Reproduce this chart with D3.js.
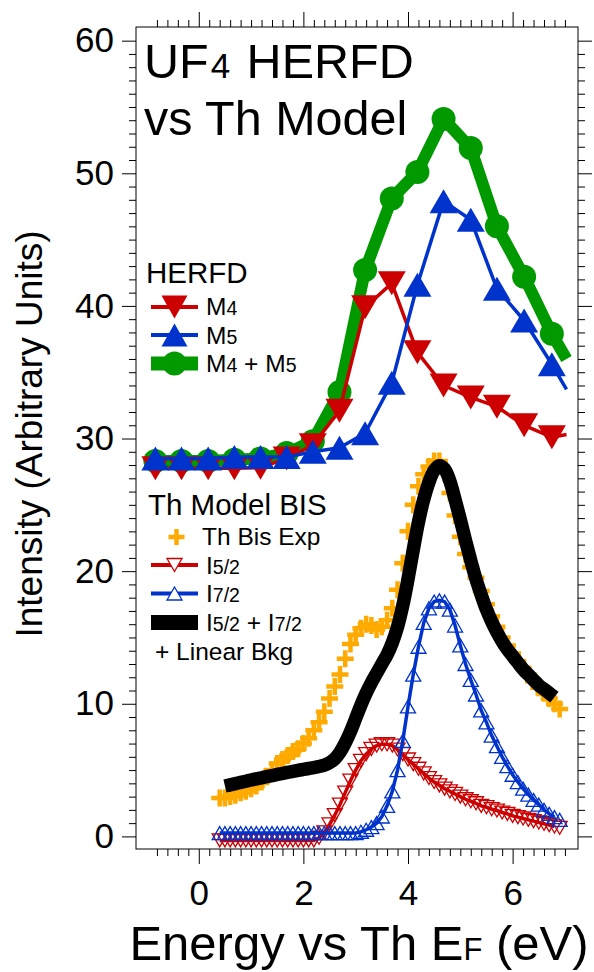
<!DOCTYPE html>
<html>
<head>
<meta charset="utf-8">
<script src="https://cdn.jsdelivr.net/npm/d3@7"></script>
<style>
  body { margin: 0; background: #fff; }
  text { font-family: "Liberation Sans", Arial, sans-serif; fill: #000; }
</style>
</head>
<body>
<script>
// HERFD (top set) - last point has no marker in the original
const herfdE = [-0.83, -0.33, 0.18, 0.68, 1.18, 1.68, 2.18, 2.69, 3.18, 3.69, 4.18, 4.68, 5.2, 5.7, 6.22, 6.75, 7.03];
const m4 = [27.75, 27.75, 27.75, 27.75, 27.8, 28.5, 29.5, 32.1, 39.9, 41.7, 36.5, 34.0, 33.1, 32.4, 31.0, 30.1, 30.3];
const m5 = [28.5, 28.5, 28.5, 28.6, 28.6, 28.6, 29.0, 29.3, 30.4, 34.2, 41.6, 47.9, 46.5, 41.3, 38.9, 35.6, 33.7];
const m4m5 = [28.3, 28.3, 28.3, 28.4, 28.5, 28.9, 29.8, 33.5, 42.7, 48.1, 50.1, 54.1, 51.9, 46.0, 42.2, 37.9, 36.0];

// Th model BIS (bottom set)
const modelE = [0.4, 0.5, 0.6, 0.7, 0.8, 0.9, 1.0, 1.1, 1.2, 1.3, 1.4, 1.5, 1.6, 1.7, 1.8, 1.9, 2.0, 2.1, 2.2, 2.3,
  2.4, 2.5, 2.6, 2.7, 2.8, 2.9, 3.0, 3.1, 3.2, 3.3, 3.4, 3.5, 3.6, 3.7, 3.8, 3.9, 4.0, 4.1, 4.2, 4.3,
  4.4, 4.5, 4.6, 4.7, 4.8, 4.9, 5.0, 5.1, 5.2, 5.3, 5.4, 5.5, 5.6, 5.7, 5.8, 5.9, 6.0, 6.1, 6.2, 6.3,
  6.4, 6.5, 6.6, 6.7, 6.8, 6.9];
const thBisExp = [2.9, 2.9, 3.0, 3.1, 3.3, 3.4, 3.6, 3.8, 4.1, 4.5, 5.0, 5.5, 5.8, 6.1, 6.4, 6.6, 7.0, 7.4, 8.0, 8.6,
  9.4, 10.4, 11.3, 12.2, 13.4, 14.5, 15.2, 15.7, 16.0, 15.9, 15.6, 15.8, 16.3, 17.2, 18.6, 20.6, 23.0, 25.0, 26.4, 27.3,
  27.9, 28.3, 28.3, 27.4, 25.9, 24.2, 22.6, 21.3, 20.3, 19.5, 18.5, 17.5, 16.6, 15.8, 15.0, 14.4, 13.8, 13.2, 12.7, 12.2,
  11.7, 11.2, 10.8, 10.4, 10.0, 9.6];
const i52 = [-0.3, -0.3, -0.3, -0.3, -0.3, -0.3, -0.3, -0.3, -0.3, -0.3, -0.3, -0.3, -0.3, -0.3, -0.3, -0.3, -0.3, -0.3, -0.3, -0.1,
  0.3, 0.9, 1.6, 2.4, 3.3, 4.2, 5.0, 5.7, 6.2, 6.6, 6.85, 6.95, 6.95, 6.85, 6.55, 6.2, 5.8, 5.45, 5.1, 4.75,
  4.4, 4.1, 3.85, 3.6, 3.4, 3.2, 3.0, 2.8, 2.65, 2.5, 2.3, 2.2, 2.05, 1.95, 1.8, 1.7, 1.55, 1.45, 1.35, 1.25,
  1.15, 1.05, 0.95, 0.85, 0.75, 0.65];
const i72 = [0.25, 0.25, 0.25, 0.25, 0.25, 0.25, 0.25, 0.25, 0.25, 0.25, 0.25, 0.25, 0.25, 0.25, 0.25, 0.25, 0.25, 0.25, 0.25, 0.25,
  0.25, 0.25, 0.25, 0.25, 0.25, 0.25, 0.25, 0.35, 0.5, 0.7, 1.0, 1.5, 2.3, 3.4, 5.0, 7.2, 9.8, 12.2, 14.3, 16.1,
  17.2, 17.7, 17.8, 17.7, 17.1, 15.9, 14.4, 13.0, 11.8, 10.7, 9.5, 8.6, 7.6, 6.8, 6.0, 5.3, 4.65, 4.1, 3.6, 3.15,
  2.75, 2.4, 2.0, 1.7, 1.45, 1.25];
// I5/2 + I7/2 + linear background (fit), no value outside 0.5..6.8
const fitSum = [null, 3.8, 3.89, 3.98, 4.07, 4.16, 4.25, 4.34, 4.42, 4.5, 4.59, 4.67, 4.75, 4.83, 4.9, 4.98, 5.05, 5.12, 5.19, 5.27,
  5.38, 5.55, 5.85, 6.35, 7.05, 7.9, 8.9, 9.9, 10.8, 11.6, 12.3, 13.0, 13.7, 14.6, 15.8, 17.4, 19.4, 21.6, 23.7, 25.4,
  26.7, 27.6, 27.95, 27.7, 26.8, 25.4, 23.9, 22.3, 20.8, 19.4, 18.2, 17.1, 16.2, 15.4, 14.7, 14.1, 13.6, 13.1, 12.6, 12.2,
  11.8, 11.4, 11.1, 10.8, 10.5, null];

const xMajor = [0, 2, 4, 6],
      xTickLabels = ["0", "2", "4", "6"],
      yMajor = [0, 10, 20, 30, 40, 50, 60],
      yTickLabels = ["0", "10", "20", "30", "40", "50", "60"];

const red = "#cc0000", blue = "#0033cc", green = "#009900", orange = "#ffaa00";

const width = 594, height = 972;
const x = d3.scaleLinear().domain([-1.2, 7.25]).range([136, 578]);
const y = d3.scaleLinear().domain([-0.95, 61.03]).range([849, 27]);

const svg = d3.select("body").append("svg")
        .attr("width", width)
        .attr("height", height);

const zip = (xs, ys) => xs.map((e, i) => [e, ys[i]]);
const line = d3.line().defined(d => d[1] != null).x(d => x(d[0])).y(d => y(d[1]));

function tri(w, h, down) {
    const s = down ? -1 : 1;
    return "M0," + (-s * h / 2) + "L" + (w / 2) + "," + (s * h / 2) + "L" + (-w / 2) + "," + (s * h / 2) + "Z";
}
const plus = a => "M" + (-a) + ",0H" + a + "M0," + (-a) + "V" + a;

// ---- axes: ticks on all four sides, outside
const xMinor = d3.range(-4, 36).filter(i => i % 10 !== 0).map(i => i / 5);
const yMinor = d3.range(0, 61).filter(v => v % 10 !== 0);

function addAxis(axis, tr, labels) {
    const g = svg.append("g").attr("transform", tr).call(axis);
    g.select(".domain").remove();
    g.selectAll("line").attr("stroke", "#000");
    if (labels) g.selectAll("text").style("font-size", "35px").attr("fill", "#000");
    return g;
}
const bottomY = y.range()[0], topY = y.range()[1], leftX = x.range()[0], rightX = x.range()[1];

addAxis(d3.axisBottom(x).tickValues(xMajor).tickSize(15).tickPadding(16)
        .tickFormat((d, i) => xTickLabels[i]), "translate(0," + bottomY + ")", true);
addAxis(d3.axisBottom(x).tickValues(xMinor).tickSize(7).tickFormat(""), "translate(0," + bottomY + ")");
addAxis(d3.axisTop(x).tickValues(xMajor).tickSize(15).tickFormat(""), "translate(0," + topY + ")");
addAxis(d3.axisTop(x).tickValues(xMinor).tickSize(7).tickFormat(""), "translate(0," + topY + ")");
addAxis(d3.axisLeft(y).tickValues(yMajor).tickSize(14).tickPadding(8)
        .tickFormat((d, i) => yTickLabels[i]), "translate(" + leftX + ",0)", true);
addAxis(d3.axisLeft(y).tickValues(yMinor).tickSize(7).tickFormat(""), "translate(" + leftX + ",0)");
addAxis(d3.axisRight(y).tickValues(yMajor).tickSize(14).tickFormat(""), "translate(" + rightX + ",0)");
addAxis(d3.axisRight(y).tickValues(yMinor).tickSize(7).tickFormat(""), "translate(" + rightX + ",0)");

svg.append("rect")
        .attr("x", leftX).attr("y", topY)
        .attr("width", rightX - leftX).attr("height", bottomY - topY)
        .attr("fill", "none").attr("stroke", "#000").attr("stroke-width", 1);

// ---- model curves
const plot = svg.append("g");

plot.selectAll(".bisExp")
        .data(zip(modelE, thBisExp))
        .enter().append("path")
        .attr("class", "bisExp")
        .attr("transform", d => "translate(" + x(d[0]) + "," + y(d[1]) + ")")
        .attr("d", plus(8.5))
        .attr("stroke", orange).attr("stroke-width", 4.5).attr("fill", "none");

plot.append("path")
        .datum(zip(modelE, fitSum))
        .attr("d", line.curve(d3.curveCatmullRom))
        .attr("fill", "none").attr("stroke", "#000").attr("stroke-width", 13.5)
        .attr("stroke-linejoin", "round");

function modelSeries(vals, color, down) {
    plot.append("path")
            .datum(zip(modelE, vals).slice(0, -1))
            .attr("d", line.curve(d3.curveLinear))
            .attr("fill", "none").attr("stroke", color).attr("stroke-width", 3.5);
    plot.selectAll(null)
            .data(zip(modelE, vals))
            .enter().append("path")
            .attr("transform", d => "translate(" + x(d[0]) + "," + y(d[1]) + ")")
            .attr("d", tri(15, 13, down))
            .attr("fill", "none").attr("stroke", color).attr("stroke-width", 1.3);
}
modelSeries(i52, red, true);
modelSeries(i72, blue, false);

// ---- HERFD
function herfdSeries(vals, color, lw, marker) {
    const pts = zip(herfdE, vals);
    plot.append("path")
            .datum(pts)
            .attr("d", line.curve(d3.curveLinear))
            .attr("fill", "none").attr("stroke", color).attr("stroke-width", lw)
            .attr("stroke-linejoin", "round");
    plot.selectAll(null)
            .data(pts.slice(0, -1))
            .enter().append("path")
            .attr("transform", d => "translate(" + x(d[0]) + "," + y(d[1]) + ")")
            .attr("d", marker)
            .attr("fill", color);
}
herfdSeries(m4m5, green, 12, d3.symbol(d3.symbolCircle, Math.PI * 12 * 12)());
herfdSeries(m4, red, 3.5, tri(28, 24, true));
herfdSeries(m5, blue, 3.5, tri(28, 24, false));

// ---- titles
const title = svg.append("text").attr("x", 144).attr("y", 78).style("font-size", "48.5px");
title.append("tspan").text("UF");
title.append("tspan").attr("dx", 2).style("font-size", "35px").text("4");
title.append("tspan").attr("dx", 3).text(" HERFD");
svg.append("text").attr("x", 144).attr("y", 135).style("font-size", "48.5px").text("vs Th Model");

const xt = svg.append("text").attr("x", 359).attr("y", 960)
        .style("font-size", "49px").style("text-anchor", "middle");
xt.append("tspan").text("Energy vs Th E");
xt.append("tspan").style("font-size", "31px").text("F");
xt.append("tspan").text(" (eV)");

svg.append("text")
        .attr("transform", "translate(42,434) rotate(-90)")
        .style("font-size", "37px").style("text-anchor", "middle")
        .text("Intensity (Arbitrary Units)");

// ---- legends
function legendText(xp, yp, parts) {
    const t = svg.append("text").attr("x", xp).attr("y", yp).style("font-size", "24.5px");
    parts.forEach(p => t.append("tspan").style("font-size", p[1] ? "19.5px" : null).text(p[0]));
}
function legendLine(yc, color, lw) {
    svg.append("line").attr("x1", 151).attr("x2", 198).attr("y1", yc).attr("y2", yc)
            .attr("stroke", color).attr("stroke-width", lw);
}
function legendMarker(yc, d, color, filled, sw) {
    svg.append("path").attr("transform", "translate(174.5," + yc + ")").attr("d", d)
            .attr("fill", filled ? color : "#fff").attr("stroke", filled ? "none" : color)
            .attr("stroke-width", sw || 0);
}

svg.append("text").attr("x", 146).attr("y", 283).style("font-size", "29.5px").text("HERFD");
legendLine(307, red, 4);
legendMarker(307, tri(26, 23, true), red, true);
legendText(206, 315, [["M"], ["4", 1]]);
legendLine(335, blue, 4);
legendMarker(335, tri(26, 23, false), blue, true);
legendText(206, 343.5, [["M"], ["5", 1]]);
legendLine(363.5, green, 14);
legendMarker(363.5, d3.symbol(d3.symbolCircle, Math.PI * 12 * 12)(), green, true);
legendText(206, 372, [["M"], ["4", 1], [" + M"], ["5", 1]]);

svg.append("text").attr("x", 148).attr("y", 515).style("font-size", "29.5px").text("Th Model BIS");
svg.append("path").attr("transform", "translate(176.5,537)").attr("d", plus(8))
        .attr("stroke", orange).attr("stroke-width", 4.5).attr("fill", "none");
legendText(202, 545, [["Th Bis Exp"]]);
legendLine(565, red, 4);
legendMarker(565, tri(15, 13, true), red, false, 1.3);
legendText(206, 573.5, [["I"], ["5/2", 1]]);
legendLine(593.5, blue, 4);
legendMarker(593.5, tri(15, 13, false), blue, false, 1.3);
legendText(206, 602, [["I"], ["7/2", 1]]);
legendLine(622.5, "#000", 15);
legendText(206, 630.5, [["I"], ["5/2", 1], [" + I"], ["7/2", 1]]);
legendText(155, 660, [["+ Linear Bkg"]]);
</script>
</body>
</html>
